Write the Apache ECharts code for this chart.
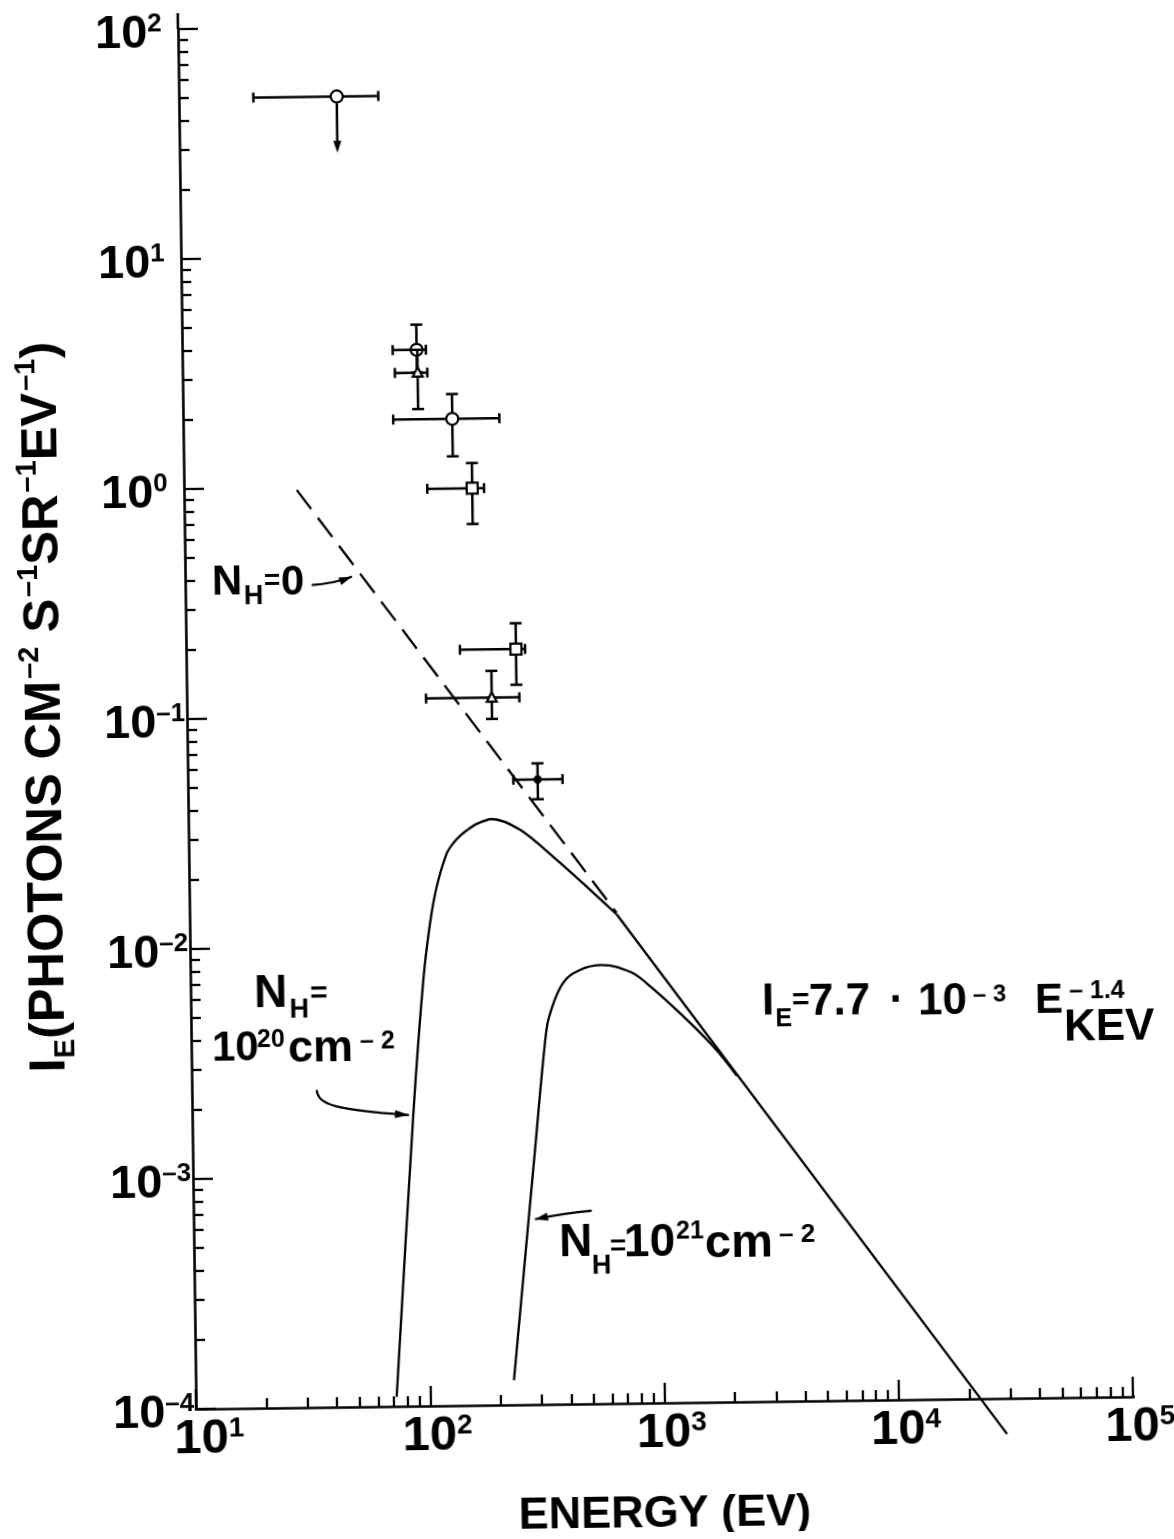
<!DOCTYPE html>
<html><head><meta charset="utf-8">
<script src="https://cdn.jsdelivr.net/npm/echarts@6/dist/echarts.min.js"></script>
<style>
html,body{margin:0;padding:0;background:#fff;}
#main{width:1174px;height:1539px;transform:rotate(-0.75deg);transform-origin:196px 1409px;background:#fff;}
</style></head><body><div id="main"></div>
<script>
// ---------------- data ----------------
const xTickValues = [10, 100, 1000, 10000, 100000];
const xTickLabels = ['1', '2', '3', '4', '5'];
const yTickValues = [1e-4, 1e-3, 1e-2, 1e-1, 1, 10, 100];
const yTickLabels = ['–4', '–3', '–2', '–1', '0', '1', '2'];
const minorMultipliers = [2, 3, 4, 5, 6, 7, 8, 9];

// measured points with error bars
const pointEnergy    = [47.2, 100.2, 100.9, 141, 170, 256, 200.5, 311.6];
const pointIntensity = [49.9, 3.91, 3.11, 1.95, 0.971, 0.193, 0.119, 0.0522];
const energyLow      = [20.8, 79.2, 80.7, 78.9, 109.3, 147.6, 105.1, 245.3];
const energyHigh     = [71.0, 109.8, 111.0, 224, 191, 280, 263, 398];
const intensityLow   = [28.4, 3.11, 2.16, 1.34, 0.679, 0.135, 0.0962, 0.0428];
const intensityHigh  = [49.9, 5.03, 3.91, 2.50, 1.25, 0.250, 0.1556, 0.0613];
const pointMarker    = ['circle', 'circle', 'triangle', 'circle', 'square', 'square', 'triangle', 'dot'];
const upperLimit     = [true, false, false, false, false, false, false, false];

// N_H = 0 (dashed power law)
const nh0Energy    = [30.3, 665];
const nh0Intensity = [0.977, 0.0136];
// N_H = 1e20
const nh20Energy    = [72.0, 87.9, 98.7, 106.2, 114.0, 126.3, 134.9, 144.2, 154.2, 170.3, 197.3, 260.4, 359.7, 497.8, 665];
const nh20Intensity = [1.10e-4, 1.85e-3, 7.11e-3, 0.01253, 0.01809, 0.0252, 0.0279, 0.02995, 0.03162, 0.0337, 0.0353, 0.0316, 0.0240, 0.01773, 0.0134];
// common power-law tail
const tailEnergy    = [665, 28900];
const tailIntensity = [0.0134, 7.0e-5];
// N_H = 1e21
const nh21Energy    = [228.5, 289.5, 327.4, 341.6, 389.5, 461, 571, 753.5, 887, 1226, 1692, 2122];
const nh21Intensity = [1.28e-4, 1.28e-3, 4.12e-3, 5.0e-3, 6.78e-3, 7.71e-3, 8.07e-3, 7.52e-3, 6.68e-3, 4.93e-3, 3.52e-3, 2.62e-3];

// axis line extensions beyond the last decade
const yAxisExtension = [[10, 100], [10, 117.4]];
const xAxisExtension = [[1e5, 1e-4], [1.304e5, 1e-4]];

// ---------------- chart ----------------
const FONT = '"Liberation Sans", Arial, Helvetica, sans-serif';
const WEIGHT = 'bold';
const BLACK = '#000';
const pairs = (xs, ys) => xs.map((x, i) => [x, ys[i]]);
const xMinor = [], yMinor = [];
xTickValues.slice(0, -1).forEach(d => minorMultipliers.forEach(m => xMinor.push(d * m)));
yTickValues.slice(0, -1).forEach(d => minorMultipliers.forEach(m => yMinor.push(d * m)));

// page is tilted like the scan; annotation positions are given in page pixels and mapped into the chart frame
const TILT = 0.75 * Math.PI / 180, OX = 196, OY = 1409;
function unrot(px, py) {
  const dx = px - OX, dy = py - OY, c = Math.cos(TILT), s = Math.sin(TILT);
  return [OX + dx * c - dy * s, OY + dx * s + dy * c];
}

const markerCode = {circle: 0, triangle: 1, square: 2, dot: 3};
const errData = pointEnergy.map((e, i) => [e, pointIntensity[i], energyLow[i], energyHigh[i],
  intensityLow[i], intensityHigh[i], markerCode[pointMarker[i]], upperLimit[i] ? 1 : 0]);

function renderErr(params, api) {
  const E = api.value(0), I = api.value(1);
  const p = api.coord([E, I]);
  const pl = api.coord([api.value(2), I]);
  const ph = api.coord([api.value(3), I]);
  const pb = api.coord([E, api.value(4)]);
  const pt = api.coord([E, api.value(5)]);
  const m = api.value(6), lim = api.value(7);
  const st = {stroke: BLACK, lineWidth: 2.5, fill: null};
  const ch = [];
  const line = (x1, y1, x2, y2) => ch.push({type: 'line', shape: {x1, y1, x2, y2}, style: st});
  line(pl[0], p[1], ph[0], p[1]);
  line(pl[0], p[1] - 5, pl[0], p[1] + 5);
  line(ph[0], p[1] - 5, ph[0], p[1] + 5);
  if (lim) {
    line(p[0], p[1], p[0], pb[1] - 8);
    ch.push({type: 'polygon', shape: {points: [[p[0], pb[1]], [p[0] - 4, pb[1] - 12], [p[0] + 4, pb[1] - 12]]}, style: {fill: BLACK}});
  } else {
    line(p[0], pt[1], p[0], pb[1]);
    line(p[0] - 6, pt[1], p[0] + 6, pt[1]);
    line(p[0] - 6, pb[1], p[0] + 6, pb[1]);
  }
  const ms = {stroke: BLACK, lineWidth: 2.2, fill: '#fff'};
  if (m === 0) ch.push({type: 'circle', shape: {cx: p[0], cy: p[1], r: 6}, style: ms});
  else if (m === 1) ch.push({type: 'polygon', shape: {points: [[p[0], p[1] - 5.5], [p[0] - 5, p[1] + 4], [p[0] + 5, p[1] + 4]]}, style: ms});
  else if (m === 2) ch.push({type: 'rect', shape: {x: p[0] - 5.5, y: p[1] - 5.5, width: 11, height: 11}, style: ms});
  else ch.push({type: 'circle', shape: {cx: p[0], cy: p[1], r: 4.2}, style: {fill: BLACK}});
  return {type: 'group', children: ch};
}

const axisLineStyle = {color: BLACK, width: 2.6};
const tickStyle = {color: BLACK, width: 2.3};

function xLabel(v) {
  const i = xTickValues.findIndex(t => Math.abs(Math.log10(t) - Math.log10(v)) < 1e-6);
  if (i < 0) return '';
  return (i === 0 ? '{bf|10}' : '{b|10}') + '{s|' + xTickLabels[i] + '}';
}
function yLabel(v) {
  const i = yTickValues.findIndex(t => Math.abs(Math.log10(t) - Math.log10(v)) < 1e-6);
  return i < 0 ? '' : '{b|10}{s|' + yTickLabels[i] + '}';
}

const lineBase = {type: 'line', symbol: 'none', clip: false, silent: true, z: 3};

// annotation text pieces in page pixels: [left, capCentre, text, size, align]
const pieces = [
  [212, 583, 'N', 42], [244, 597, 'H', 27], [264, 581.7, '=', 28], [281, 583, '0', 42],
  [254, 995, 'N', 46], [289.5, 1010, 'H', 27], [310, 994, '=', 30],
  [212, 1049, '10', 42], [257, 1040, '20', 25], [288, 1049, 'cm', 45], [360, 1041.5, '– 2', 25],
  [762, 1002.5, 'I', 44], [775.5, 1019, 'E', 25], [792, 1001, '=', 30], [809, 1002.5, '7.7', 44],
  [896.7, 1002, '·', 44, 'center'], [918, 1002.5, '10', 44], [973, 995, '– 3', 24],
  [1035, 1001.7, 'E', 42], [1069, 991.7, '– 1.4', 25], [1064, 1028, 'KEV', 44],
  [559, 1244, 'N', 46], [592, 1266, 'H', 27], [610, 1247.3, '=', 28], [624, 1244, '10', 46],
  [676, 1231.5, '21', 25], [705, 1244.5, 'cm', 47], [779, 1235, '– 2', 26]
];
const graphics = pieces.map(p => {
  const q = unrot(p[0], p[1]);
  return {
    type: 'text', x: q[0], y: q[1], z: 100,
    style: {text: p[2], fontSize: p[3], fontFamily: FONT, fontWeight: WEIGHT, fill: BLACK,
      align: p[4] || 'left', textAlign: p[4] || 'left', verticalAlign: 'middle', textVerticalAlign: 'middle'}
  };
});

function arrowHead(tip, from, len, hw) {
  const d0 = [tip[0] - from[0], tip[1] - from[1]];
  const n = Math.hypot(d0[0], d0[1]);
  const d = [d0[0] / n, d0[1] / n];
  const b = [tip[0] - d[0] * len, tip[1] - d[1] * len];
  return {type: 'polygon', z: 100, shape: {points: [tip, [b[0] - d[1] * hw, b[1] + d[0] * hw], [b[0] + d[1] * hw, b[1] - d[0] * hw]]}, style: {fill: BLACK}};
}
function arrow(pts, headLen) {
  const q = pts.map(p => unrot(p[0], p[1]));
  const end = q[q.length - 1], prev = q[q.length - 2];
  const shape = {x1: q[0][0], y1: q[0][1], x2: end[0], y2: end[1], cpx1: q[1][0], cpy1: q[1][1]};
  if (q.length === 4) { shape.cpx2 = q[2][0]; shape.cpy2 = q[2][1]; }
  return [
    {type: 'bezierCurve', z: 100, shape, style: {stroke: BLACK, lineWidth: 2.2, fill: null}},
    arrowHead(end, prev, headLen, 4)
  ];
}
graphics.push(
  ...arrow([[311.7, 585], [333, 584], [352, 576.7]], 13),
  ...arrow([[316.7, 1090], [318, 1105], [336, 1110], [409, 1115]], 14),
  ...arrow([[591.7, 1210.7], [565, 1213], [535, 1219.3]], 13)
);
const xTitle = unrot(665, 1514);
const yTitle = unrot(46, 707);
graphics.push(
  {type: 'text', x: xTitle[0], y: xTitle[1], z: 100,
    style: {text: 'ENERGY (EV)', fontSize: 45, fontFamily: FONT, fontWeight: WEIGHT, fill: BLACK,
      align: 'center', textAlign: 'center', verticalAlign: 'middle', textVerticalAlign: 'middle'}},
  {type: 'text', x: yTitle[0], y: yTitle[1], rotation: Math.PI / 2, z: 100,
    style: {text: '{m|I}{sb|E}{m|(PHOTONS CM}{sp|–2}{m| S}{sp|–1}{m|SR}{sp|–1}{m|EV}{sp|–1}{m|)}',
      align: 'center', textAlign: 'center', verticalAlign: 'middle', textVerticalAlign: 'middle',
      rich: {
        m: {fontSize: 50.5, lineHeight: 60, fontFamily: FONT, fontWeight: WEIGHT, fill: BLACK, verticalAlign: 'middle'},
        sp: {fontSize: 29, lineHeight: 29, fontFamily: FONT, fontWeight: WEIGHT, fill: BLACK, verticalAlign: 'top', padding: [0, 0, 0, 2]},
        sb: {fontSize: 29, lineHeight: 29, fontFamily: FONT, fontWeight: WEIGHT, fill: BLACK, verticalAlign: 'bottom'}
      }}}
);

const xRichB = {fontSize: 49, lineHeight: 49, fontFamily: FONT, fontWeight: WEIGHT, color: BLACK};
const option = {
  backgroundColor: '#fff',
  animation: false,
  grid: {left: 196, right: 41, top: 29, bottom: 130, containLabel: false, outerBoundsMode: 'none'},
  xAxis: [
    {type: 'log', logBase: 10, min: 10, max: 1e5, position: 'bottom',
      axisLine: {show: true, lineStyle: axisLineStyle},
      axisTick: {show: true, inside: true, length: 20, lineStyle: tickStyle},
      splitLine: {show: false},
      axisLabel: {show: true, margin: 6, formatter: xLabel, padding: [0, 0, 0, 14],
        rich: {b: xRichB,
               bf: Object.assign({}, xRichB, {padding: [0, 0, 0, 12]}),
               s: {fontSize: 28, lineHeight: 28, fontFamily: FONT, fontWeight: WEIGHT, color: BLACK, verticalAlign: 'top'}}}},
    {type: 'log', logBase: 10, min: 10, max: 1e5, position: 'bottom',
      axisLine: {show: false}, splitLine: {show: false}, axisLabel: {show: false},
      axisTick: {show: true, inside: true, length: 10, customValues: xMinor, lineStyle: tickStyle}}
  ],
  yAxis: [
    {type: 'log', logBase: 10, min: 1e-4, max: 100, position: 'left',
      axisLine: {show: true, lineStyle: axisLineStyle},
      axisTick: {show: true, inside: true, length: 20, lineStyle: tickStyle},
      splitLine: {show: false},
      axisLabel: {show: true, margin: 83, align: 'left', formatter: yLabel, padding: [11, 0, 0, 0],
        rich: {b: {fontSize: 47, lineHeight: 47, fontFamily: FONT, fontWeight: WEIGHT, color: BLACK},
               s: {fontSize: 26, lineHeight: 26, fontFamily: FONT, fontWeight: WEIGHT, color: BLACK, verticalAlign: 'top'}}}},
    {type: 'log', logBase: 10, min: 1e-4, max: 100, position: 'left',
      axisLine: {show: false}, splitLine: {show: false}, axisLabel: {show: false},
      axisTick: {show: true, inside: true, length: 10, customValues: yMinor, lineStyle: tickStyle}}
  ],
  series: [
    Object.assign({}, lineBase, {name: 'yext', data: yAxisExtension, lineStyle: {color: BLACK, width: 2.6}}),
    Object.assign({}, lineBase, {name: 'xext', data: xAxisExtension, lineStyle: {color: BLACK, width: 2.6}}),
    Object.assign({}, lineBase, {name: 'NH=0', data: pairs(nh0Energy, nh0Intensity),
      lineStyle: {color: BLACK, width: 2.3, type: [24, 11]}}),
    Object.assign({}, lineBase, {name: 'NH=1e20', data: pairs(nh20Energy, nh20Intensity),
      smooth: 0.3, lineStyle: {color: BLACK, width: 2.3}}),
    Object.assign({}, lineBase, {name: 'tail', data: pairs(tailEnergy, tailIntensity),
      lineStyle: {color: BLACK, width: 2.3}}),
    Object.assign({}, lineBase, {name: 'NH=1e21', data: pairs(nh21Energy, nh21Intensity),
      smooth: 0.4, lineStyle: {color: BLACK, width: 2.3}}),
    {type: 'custom', name: 'points', coordinateSystem: 'cartesian2d', renderItem: renderErr,
      encode: {x: 0, y: 1}, data: errData, clip: false, silent: true, z: 5}
  ],
  graphic: graphics
};
const chart = echarts.init(document.getElementById('main'));
chart.setOption(option);
</script></body></html>
